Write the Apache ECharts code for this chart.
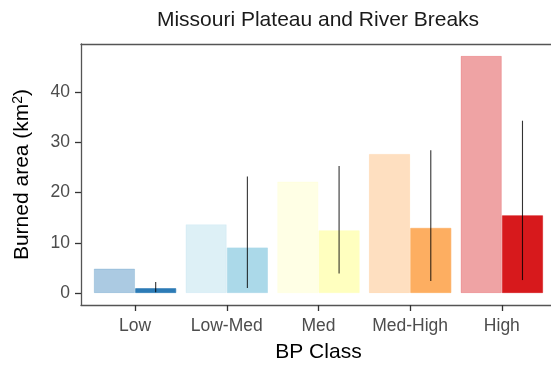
<!DOCTYPE html>
<html>
<head>
<meta charset="utf-8">
<script src="https://cdn.jsdelivr.net/npm/echarts@6/dist/echarts.min.js"></script>
<style>html,body{margin:0;padding:0;background:#fff}#c{width:551px;height:369px}</style>
</head>
<body>
<div id="c"></div>
<script>
var categories = ['Low', 'Low-Med', 'Med', 'Med-High', 'High'];
var totalArea = [4.9, 13.7, 22.2, 27.7, 47.2];
var meanArea = [1.0, 9.1, 12.5, 13.0, 15.5];
var errLow = [0.2, 1.0, 3.9, 2.4, 2.6];
var errHigh = [2.2, 23.2, 25.3, 28.4, 34.3];
var yTicks = [0, 10, 20, 30, 40];
var baseColors = ['#2c7bb6', '#abd9e9', '#ffffbf', '#fdae61', '#d7191c'];

function hexA(h, a) {
  var r = parseInt(h.slice(1, 3), 16), g = parseInt(h.slice(3, 5), 16), b = parseInt(h.slice(5, 7), 16);
  return 'rgba(' + r + ',' + g + ',' + b + ',' + a + ')';
}

var yMin = -2.36, yMax = 49.56;
var FONT = 'Liberation Sans, Arial, sans-serif';
var BORDER = {show: true, onZero: false, lineStyle: {color: '#555', width: 1.3}};
var chart = echarts.init(document.getElementById('c'), null, {renderer: 'canvas'});

var errData = categories.map(function (c, i) { return [i, errLow[i], errHigh[i]]; });

chart.setOption({
  animation: false,
  title: {
    text: 'Missouri Plateau and River Breaks',
    left: 313, top: 5, textAlign: 'center',
    textStyle: {fontFamily: FONT, fontSize: 21, fontWeight: 'normal', color: '#1a1a1a'}
  },
  grid: [
    {left: 81, right: -7, top: 44, bottom: 64},
    {left: 89.2, right: 3.3, top: 44, bottom: 64}
  ],
  xAxis: [
    {gridIndex: 0, type: 'value', min: 0, max: 1, position: 'bottom', axisLine: BORDER,
      axisTick: {show: false}, axisLabel: {show: false}, splitLine: {show: false}},
    {gridIndex: 0, type: 'value', min: 0, max: 1, position: 'top', axisLine: BORDER,
      axisTick: {show: false}, axisLabel: {show: false}, splitLine: {show: false}},
    {
      gridIndex: 1, type: 'category', data: categories, position: 'bottom',
      name: 'BP Class', nameLocation: 'middle', nameGap: 37,
      nameTextStyle: {fontFamily: FONT, fontSize: 21, color: '#000'},
      axisLine: {show: false, onZero: false},
      axisTick: {show: true, alignWithLabel: true, length: 6, lineStyle: {color: '#333', width: 1.3}},
      axisLabel: {fontFamily: FONT, fontSize: 17.5, color: '#4d4d4d', margin: 12, interval: 0},
      splitLine: {show: false}
    }
  ],
  yAxis: [
    {
      gridIndex: 0, type: 'value', min: yMin, max: yMax,
      name: 'Burned area (km{sup|2})', nameLocation: 'middle', nameGap: 48,
      nameTextStyle: {fontFamily: FONT, fontSize: 21, color: '#000',
        rich: {sup: {fontFamily: FONT, fontSize: 14, color: '#000', verticalAlign: 'top', padding: [0, 0, 8, 0]}}},
      axisLine: BORDER,
      axisTick: {show: true, length: 6, lineStyle: {color: '#333', width: 1.3}, customValues: yTicks},
      axisLabel: {fontFamily: FONT, fontSize: 17.5, color: '#4d4d4d', margin: 11, customValues: yTicks},
      splitLine: {show: false}
    },
    {gridIndex: 1, type: 'value', min: yMin, max: yMax, show: false}
  ],
  series: [
    {
      type: 'bar', xAxisIndex: 2, yAxisIndex: 1,
      barWidth: '45%', barGap: '0%',
      data: totalArea.map(function (v, i) {
        return {value: v, itemStyle: {color: hexA(baseColors[i], 0.4), borderColor: hexA(baseColors[i], 0.2), borderWidth: 1}};
      })
    },
    {
      type: 'bar', xAxisIndex: 2, yAxisIndex: 1,
      barWidth: '45%', barGap: '0%',
      data: meanArea.map(function (v, i) {
        return {value: v, itemStyle: {color: baseColors[i], borderColor: hexA(baseColors[i], 0.6), borderWidth: 1}};
      })
    },
    {
      type: 'custom', xAxisIndex: 2, yAxisIndex: 1, z: 10,
      data: errData,
      renderItem: function (params, api) {
        var idx = api.value(0);
        var p1 = api.coord([idx, api.value(1)]);
        var p2 = api.coord([idx, api.value(2)]);
        var band = api.size([1, 0])[0];
        var x = p1[0] + band * 0.225;
        return {
          type: 'line',
          shape: {x1: x, y1: p1[1], x2: x, y2: p2[1]},
          style: {stroke: 'rgba(0,0,0,0.8)', lineWidth: 1.1}
        };
      }
    }
  ]
});
</script>
</body>
</html>
